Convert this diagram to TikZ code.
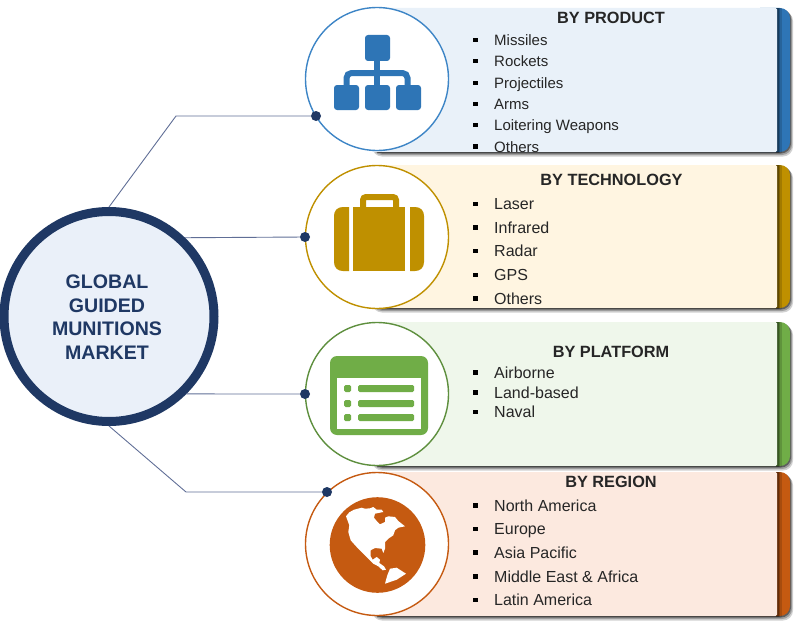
\documentclass[tikz,border=0pt]{standalone}
\usepackage{fontspec}
\setmainfont{Liberation Sans}
\usetikzlibrary{positioning}
\definecolor{HubClr}{RGB}{31,56,100}
\definecolor{HubFill}{RGB}{234,240,249}
\definecolor{ConnClr}{RGB}{96,110,150}
\definecolor{ProdClr}{RGB}{46,117,182}
\definecolor{ProdRim}{RGB}{61,133,198}
\definecolor{ProdBg}{RGB}{233,241,249}
\definecolor{TechClr}{RGB}{191,144,0}
\definecolor{TechBg}{RGB}{255,245,225}
\definecolor{PlatClr}{RGB}{112,173,71}
\definecolor{PlatRim}{RGB}{94,143,62}
\definecolor{PlatBg}{RGB}{239,247,235}
\definecolor{RegClr}{RGB}{197,90,17}
\definecolor{RegBg}{RGB}{252,233,223}
\tikzset{
  HubNode/.style={circle,draw=HubClr,fill=HubFill,line width=9pt,minimum size=210pt,inner sep=0pt},
  HubLbl/.style={align=center,text=HubClr,inner sep=0pt,font=\fontsize{19.6}{23.5}\selectfont\bfseries},
  IconRing/.style={circle,fill=white,line width=1.4pt,minimum size=143pt,inner sep=0pt},
  ConnLine/.style={draw=ConnClr,line width=0.9pt},
  DotNode/.style={circle,fill=HubClr,minimum size=10pt,inner sep=0pt},
  TitleLbl/.style={font=\fontsize{16.3}{18}\selectfont\bfseries,text=black!85,inner sep=0pt},
  ItemLbl/.style={anchor=west,font=\fontsize{16}{18}\selectfont,text=black!85,inner sep=0pt,text height=11.5pt,text depth=0pt},
  SmallLbl/.style={ItemLbl,font=\fontsize{15}{18}\selectfont,text height=11pt},
  BulletNode/.style={rectangle,fill=black,minimum size=4.4pt,inner sep=0pt,left=16pt of #1},
}
% top, bottom, light colour, dark colour
\newcommand{\PanelBox}[4]{
  \fill[black,opacity=.18,rounded corners=10pt] (372,#1+3) rectangle (793,#2+4.5);
  \fill[black,opacity=.25,rounded corners=10pt] (372,#1+2) rectangle (792,#2+3);
  \fill[black,opacity=.40,rounded corners=10pt] (372,#1+1) rectangle (791,#2+1.5);
  \fill[#4,rounded corners=10pt] (750,#1) rectangle (790,#2);
  \fill[black,opacity=.15] (377,#1) rectangle (782,#2+.5);
  \fill[black,opacity=.20] (377,#1) rectangle (780,#2+.5);
  \fill[black,opacity=.25] (377,#1) rectangle (778.5,#2+.5);
  \fill[#3,rounded corners=1.5pt] (372,#1) rectangle (777,#2);
}

\begin{document}
\begin{tikzpicture}[x=1pt,y=-1pt]
\useasboundingbox (0,0) rectangle (800,626);

\PanelBox{8}{152}{ProdBg}{ProdClr}
\PanelBox{165}{308}{TechBg}{TechClr}
\PanelBox{322}{466}{PlatBg}{PlatClr}
\PanelBox{472}{616}{RegBg}{RegClr}

\node[HubNode] (hub) at (109,316.5) {};
\node[HubLbl] (hublbl) at (107,317) {GLOBAL\\GUIDED\\MUNITIONS\\MARKET};

\node[IconRing,draw=ProdRim] (prod) at (377,79) {};
\node[IconRing,draw=TechClr] (tech) at (377,237) {};
\node[IconRing,draw=PlatRim] (plat) at (377,394) {};
\node[IconRing,draw=RegClr] (reg) at (377,544) {};

% connectors
\coordinate (k1) at (176,116);
\coordinate (k4) at (186,492);
\node[DotNode] (d1) at (316,116) {};
\node[DotNode] (d2) at (305,237) {};
\node[DotNode] (d3) at (305,394) {};
\node[DotNode] (d4) at (327,492) {};
\draw[ConnLine] (hub.north) -- (k1) -- (d1);
\draw[ConnLine] (hub.46.6) -- (d2);
\draw[ConnLine] (hub.-45.2) -- (d3);
\draw[ConnLine] (hub.south) -- (k4) -- (d4);

% tree icon
\draw[ProdClr,line width=6pt,rounded corners=5pt] (346.5,88) -- (346.5,73) -- (407.5,73) -- (407.5,88);
\draw[ProdClr,line width=6pt] (377,58) -- (377,88);
\fill[ProdClr,rounded corners=3pt] (365,35) rectangle (390,61);
\fill[ProdClr,rounded corners=3pt] (334,85) rectangle (359,110);
\fill[ProdClr,rounded corners=3pt] (365,85) rectangle (390,110);
\fill[ProdClr,rounded corners=3pt] (396,85) rectangle (421,110);

% case icon
\draw[TechClr,line width=6pt,rounded corners=3pt] (363,208) -- (363,197) -- (396,197) -- (396,208);
\fill[TechClr] (353,207) rectangle (405,271);
\fill[TechClr] (349,207) -- (343,207) .. controls (337,207) and (334,211) .. (334,216) -- (334,262)
  .. controls (334,268) and (338,271) .. (343,271) -- (349,271) -- cycle;
\fill[TechClr] (410,207) -- (415,207) .. controls (421,207) and (424,211) .. (424,216) -- (424,262)
  .. controls (424,268) and (420,271) .. (415,271) -- (410,271) -- cycle;

% window icon
\fill[PlatClr,rounded corners=7pt] (330,356) rectangle (428,435);
\fill[white] (337,378) rectangle (421,429);
\fill[PlatClr,rounded corners=1.5pt] (344,385) rectangle (351,392);
\fill[PlatClr,rounded corners=1.5pt] (344,400) rectangle (351,407);
\fill[PlatClr,rounded corners=1.5pt] (344,414) rectangle (351,421);
\fill[PlatClr,rounded corners=1.5pt] (358,385) rectangle (414,392);
\fill[PlatClr,rounded corners=1.5pt] (358,400) rectangle (414,407);
\fill[PlatClr,rounded corners=1.5pt] (358,414) rectangle (414,421);

% globe icon
\fill[RegClr] (377.5,545) circle (47.8);
\fill[white] (346,516.3) -- (349.3,512.3) -- (354,509.7) -- (361.7,507.7) -- (365,508.7) -- (370,508.3)
  -- (373.3,507) -- (376.7,509.7) -- (381.7,509.7) -- (383.3,512) -- (375,513.7) -- (374,517.7)
  -- (376.7,521) -- (380,524.3) -- (385,522) -- (385,517.7) -- (388.3,516.3) -- (395,517)
  -- (398.3,521) -- (405,526.3) -- (398.3,527.7) -- (395,530.3) -- (393.3,535.3) -- (388.3,538.7)
  -- (385,542) -- (385,548.7) -- (383.3,553) -- (381.7,548.7) -- (375,548) -- (370.7,550.3)
  -- (370.7,556.3) -- (372.7,559.7) -- (376.7,557) -- (380,559.7) -- (379.3,563) -- (384,566.3)
  -- (386,569.7) -- (382.7,570.3) -- (378.3,566.3) -- (373.3,563.7) -- (368.3,558.7) -- (363.3,553.7)
  -- (356.7,547) -- (350.7,540.3) -- (348.3,532) -- (349.3,525.3) -- cycle;
\fill[white] (385,583.7) -- (387.3,575.3) -- (390,568.7) -- (396.7,567.7) -- (406,573.7) -- (396.7,579.7) -- cycle;

% by product
\node[TitleLbl] (t1) at (611,18) {BY PRODUCT};
\node[SmallLbl] (a1) at (494,40) {Missiles};
\node[SmallLbl] (a2) at (494,61) {Rockets};
\node[SmallLbl] (a3) at (494,83) {Projectiles};
\node[SmallLbl] (a4) at (494,104) {Arms};
\node[SmallLbl] (a5) at (494,125) {Loitering Weapons};
\node[SmallLbl] (a6) at (494,146.5) {Others};
\node[BulletNode=a1] (ba1) {};
\node[BulletNode=a2] (ba2) {};
\node[BulletNode=a3] (ba3) {};
\node[BulletNode=a4] (ba4) {};
\node[BulletNode=a5] (ba5) {};
\node[BulletNode=a6] (ba6) {};

% by technology
\node[TitleLbl] (t2) at (611.5,180) {BY TECHNOLOGY};
\node[ItemLbl] (b1) at (494,204) {Laser};
\node[ItemLbl] (b2) at (494,227.5) {Infrared};
\node[ItemLbl] (b3) at (494,251) {Radar};
\node[ItemLbl] (b4) at (494,275) {GPS};
\node[ItemLbl] (b5) at (494,298.5) {Others};
\node[BulletNode=b1] (bb1) {};
\node[BulletNode=b2] (bb2) {};
\node[BulletNode=b3] (bb3) {};
\node[BulletNode=b4] (bb4) {};
\node[BulletNode=b5] (bb5) {};

% by platform
\node[TitleLbl] (t3) at (611,352) {BY PLATFORM};
\node[ItemLbl] (c1) at (494,372.5) {Airborne};
\node[ItemLbl] (c2) at (494,392.5) {Land-based};
\node[ItemLbl] (c3) at (494,412) {Naval};
\node[BulletNode=c1] (bc1) {};
\node[BulletNode=c2] (bc2) {};
\node[BulletNode=c3] (bc3) {};

% by region
\node[TitleLbl] (t4) at (611,482) {BY REGION};
\node[ItemLbl] (e1) at (494,505.5) {North America};
\node[ItemLbl] (e2) at (494,529) {Europe};
\node[ItemLbl] (e3) at (494,552.5) {Asia Pacific};
\node[ItemLbl] (e4) at (494,576.5) {Middle East \& Africa};
\node[ItemLbl] (e5) at (494,600) {Latin America};
\node[BulletNode=e1] (be1) {};
\node[BulletNode=e2] (be2) {};
\node[BulletNode=e3] (be3) {};
\node[BulletNode=e4] (be4) {};
\node[BulletNode=e5] (be5) {};

\end{tikzpicture}
\end{document}
